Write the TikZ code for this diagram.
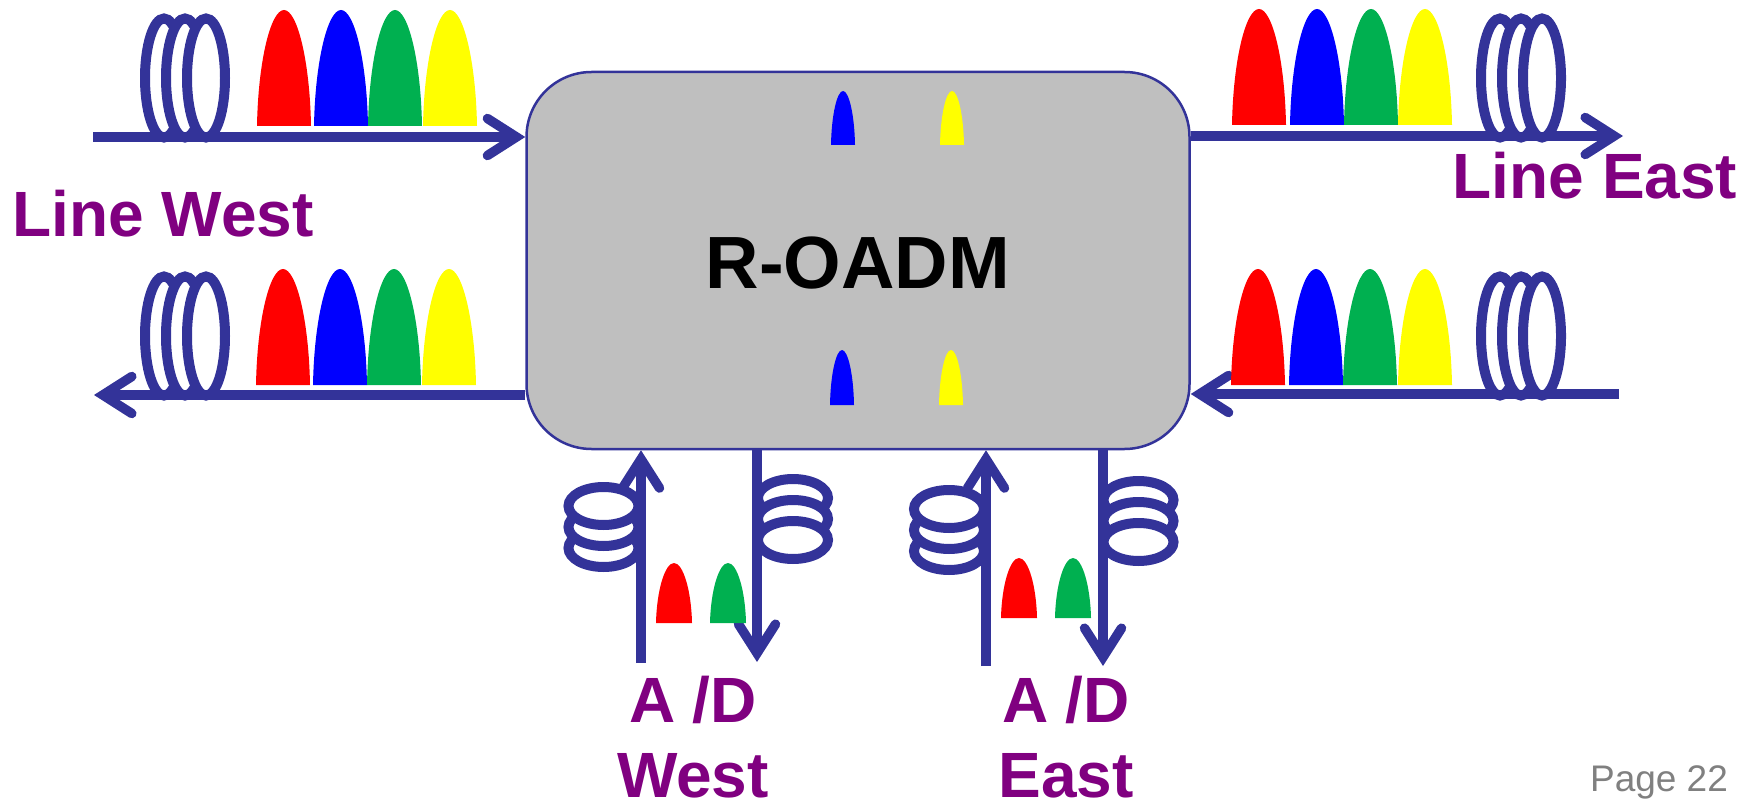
\documentclass[tikz,border=0pt]{standalone}
\usepackage{fontspec}
\setmainfont{Liberation Sans}
\usetikzlibrary{arrows.meta}
\definecolor{fibreblue}{HTML}{333399}
\definecolor{boxgrey}{HTML}{BFBFBF}
\definecolor{labelpurple}{HTML}{800080}
\definecolor{pagegrey}{HTML}{808080}
\definecolor{chred}{HTML}{FF0000}
\definecolor{chblue}{HTML}{0000FF}
\definecolor{chgreen}{HTML}{00B050}
\definecolor{chyellow}{HTML}{FFFF00}

% colour, left x, base y, width, height
\newcommand{\pulse}[5]{
  \fill[#1] (#2,#3) .. controls (#2+0.02*#4,#3-0.55*#5) and (#2+0.25*#4,#3-#5) .. (#2+0.5*#4,#3-#5)
    .. controls (#2+0.75*#4,#3-#5) and (#2+0.98*#4,#3-0.55*#5) .. (#2+#4,#3) -- cycle;
}
% the four channels of a line
\newcommand{\fourpulses}[5]{
  \pulse{chred}{#1}{#5}{54}{116}
  \pulse{chblue}{#2}{#5}{54}{116}
  \pulse{chgreen}{#3}{#5}{54}{116}
  \pulse{chyellow}{#4}{#5}{54}{116}
}

\begin{document}
\begin{tikzpicture}[
  x=1pt, y=-1pt,
  fibre/.style={draw=fibreblue, line width=9.5pt},
  arrow/.style={fibre, -{Straight Barb[length=29pt, width=37pt, line cap=round]}},
  coil/.style={fibre, line width=10pt, fill=white},
  label/.style={font=\fontsize{64}{75}\selectfont\bfseries, text=labelpurple, inner sep=0pt, align=center, anchor=base}
]
\useasboundingbox (0,0) rectangle (1752,799);

\node[draw=fibreblue, fill=boxgrey, line width=2.5pt, rounded corners=65pt,
  minimum width=663pt, minimum height=377pt, inner sep=0pt, text height=57pt,
  font=\fontsize{74}{74}\selectfont\bfseries] (roadm) at (858,260.5) {R-OADM};

\coordinate (westin) at (93,137);
\coordinate (westout) at (94,395);
\coordinate (eastout) at (1623,136);
\coordinate (eastin) at (1619,394);
\coordinate (wadd) at (641,663);
\coordinate (wdrop) at (757,662);
\coordinate (eadd) at (986,666);
\coordinate (edrop) at (1103,666);

\draw[arrow] (westin) -- (roadm.west |- westin);
\draw[arrow] (roadm.west |- westout) -- (westout);
\draw[arrow] (roadm.east |- eastout) -- (eastout);
\draw[arrow] (eastin) -- (roadm.east |- eastin);
\draw[arrow] (wadd) -- (wadd |- roadm.south);
\draw[arrow] (wdrop |- roadm.south) -- (wdrop);
\draw[arrow] (eadd) -- (eadd |- roadm.south);
\draw[arrow] (edrop |- roadm.south) -- (edrop);

% line coils
\foreach \x in {164,185,206} {
  \draw[coil] (\x,78) ellipse [x radius=19, y radius=59.5];
  \draw[coil] (\x,336) ellipse [x radius=19, y radius=59.5];
}
\foreach \x in {1500,1521,1542} {
  \draw[coil] (\x,78) ellipse [x radius=19, y radius=59.5];
  \draw[coil] (\x,336) ellipse [x radius=19, y radius=59.5];
}
% add/drop coils
\foreach \y in {548,527,506}
  \draw[coil] (603.5,\y) ellipse [x radius=35, y radius=19];
\foreach \y in {498,519,540}
  \draw[coil] (793,\y) ellipse [x radius=35, y radius=19];
\foreach \y in {551,530,509}
  \draw[coil] (949,\y) ellipse [x radius=35, y radius=19];
\foreach \y in {500,521,542}
  \draw[coil] (1138.5,\y) ellipse [x radius=35, y radius=19];

\fourpulses{257}{314}{368}{423}{126}
\fourpulses{1232}{1290}{1344}{1398}{125}
\fourpulses{256}{313}{367}{422}{385}
\fourpulses{1231}{1289}{1343}{1398}{385}

\pulse{chblue}{831}{145}{24}{54}
\pulse{chyellow}{940}{145}{24}{54}
\pulse{chblue}{830}{405}{24}{55}
\pulse{chyellow}{939}{405}{24}{55}

\pulse{chred}{656}{623}{36}{60}
\pulse{chgreen}{710}{623}{36}{60}
\pulse{chred}{1001}{618}{36}{60}
\pulse{chgreen}{1055}{618}{36}{60}

\node[label] (linewest) at (163,237) {Line West};
\node[label] (lineeast) at (1595,199) {Line East};
\node[label] (adwest) at (693,797) {A /D\\West};
\node[label] (adeast) at (1066,797) {A /D\\East};
\node[font=\fontsize{37}{37}\selectfont, text=pagegrey, inner sep=0pt, anchor=base] (pagenum) at (1659,791) {Page 22};

\end{tikzpicture}
\end{document}
